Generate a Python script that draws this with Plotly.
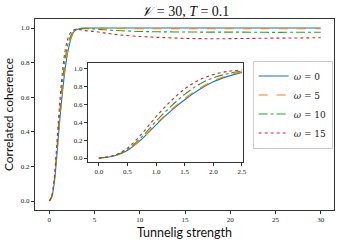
import plotly.graph_objects as go

x_vals = [0, 0.25, 0.5, 0.75, 1.0, 1.25, 1.5, 1.75, 2.0, 2.25, 2.5, 2.75, 3.0, 3.5, 4, 5, 6, 7, 8, 10, 12, 15, 18, 21, 24, 27, 30]
omega_0 = [0, 0.02, 0.085, 0.21, 0.37, 0.52, 0.65, 0.76, 0.85, 0.91, 0.955, 0.98, 0.99, 0.998, 1.0, 1.0, 1.0, 1.0, 1.0, 1.0, 1.0, 1.0, 1.0, 1.0, 1.0, 1.0, 1.0]
omega_5 = [0, 0.021, 0.088, 0.215, 0.38, 0.53, 0.665, 0.775, 0.86, 0.92, 0.96, 0.982, 0.992, 0.998, 0.998, 0.997, 0.997, 0.997, 0.997, 0.996, 0.996, 0.996, 0.996, 0.996, 0.996, 0.996, 0.996]
omega_10 = [0, 0.023, 0.095, 0.235, 0.41, 0.57, 0.71, 0.82, 0.895, 0.94, 0.97, 0.985, 0.993, 0.996, 0.996, 0.994, 0.99, 0.987, 0.984, 0.98, 0.978, 0.977, 0.976, 0.976, 0.975, 0.975, 0.975]
omega_15 = [0, 0.027, 0.11, 0.27, 0.46, 0.63, 0.77, 0.87, 0.93, 0.965, 0.982, 0.99, 0.993, 0.99, 0.985, 0.98, 0.972, 0.965, 0.959, 0.951, 0.946, 0.94, 0.938, 0.939, 0.941, 0.942, 0.944]

series = [
    ("<i>ω</i> = 0", omega_0, "#1f77b4", "solid"),
    ("<i>ω</i> = 5", omega_5, "#ff7f0e", "dash"),
    ("<i>ω</i> = 10", omega_10, "#2ca02c", "dashdot"),
    ("<i>ω</i> = 15", omega_15, "#d62728", "dot"),
]

inset_x = [v for v in x_vals if v <= 2.5]

fig = go.Figure()
for name, ys, color, dash in series:
    fig.add_trace(go.Scatter(x=x_vals, y=ys, mode="lines", name=name,
                             line=dict(color=color, dash=dash, width=1.1, shape="spline"),
                             xaxis="x", yaxis="y"))
for name, ys, color, dash in series:
    fig.add_trace(go.Scatter(x=inset_x, y=ys[:len(inset_x)], mode="lines", name=name,
                             showlegend=False,
                             line=dict(color=color, dash=dash, width=1.1, shape="spline"),
                             xaxis="x2", yaxis="y2"))

serif = "Liberation Serif"
axis_common = dict(showline=True, linecolor="#333", linewidth=1, mirror=True,
                   ticks="outside", ticklen=3, tickcolor="#333", showgrid=False,
                   zeroline=False, automargin=False,
                   tickfont=dict(family=serif, size=7, color="#222"))

fig.update_layout(
    width=340, height=243,
    margin=dict(l=35, r=6, t=19, b=33),
    paper_bgcolor="white", plot_bgcolor="white",
    title=dict(text="<i>𝒱</i> = 30, <i>T</i> = 0.1", x=0.545, xanchor="center",
               y=0.955, yanchor="middle",
               font=dict(family=serif, size=14, color="#111")),
    xaxis=dict(domain=[0, 1], range=[-1.58, 31.47], tickvals=[0, 5, 10, 15, 20, 25, 30],
               ticktext=["0", "5", "10", "15", "20", "25", "30"],
               title=dict(text="Tunnelig strength", standoff=4,
                          font=dict(family="Lato", size=12.5, color="#111")),
               **axis_common),
    yaxis=dict(domain=[0, 1], range=[-0.052, 1.052], tickvals=[0, 0.2, 0.4, 0.6, 0.8, 1.0],
               ticktext=["0.0", "0.2", "0.4", "0.6", "0.8", "1.0"],
               title=dict(text="Correlated coherence", standoff=4,
                          font=dict(family="Lato", size=12, color="#111")),
               **axis_common),
    xaxis2=dict(domain=[0.177, 0.696], anchor="y2", range=[-0.19, 2.52],
                tickvals=[0, 0.5, 1.0, 1.5, 2.0, 2.5],
                ticktext=["0.0", "0.5", "1.0", "1.5", "2.0", "2.5"], **axis_common),
    yaxis2=dict(domain=[0.251, 0.770], anchor="x2", range=[-0.045, 1.06],
                tickvals=[0, 0.2, 0.4, 0.6, 0.8, 1.0],
                ticktext=["0.0", "0.2", "0.4", "0.6", "0.8", "1.0"], **axis_common),
    legend=dict(x=0.728, y=0.552, xanchor="left", yanchor="middle",
                bgcolor="white", bordercolor="#ccc", borderwidth=1,
                font=dict(family="DejaVu Serif", size=9, color="#222"),
                itemwidth=30, tracegroupgap=0),
    showlegend=True,
)

fig.write_html("out.html", config={"displayModeBar": False},
               post_script="document.body.style.margin='0';document.body.style.overflow='hidden';")
